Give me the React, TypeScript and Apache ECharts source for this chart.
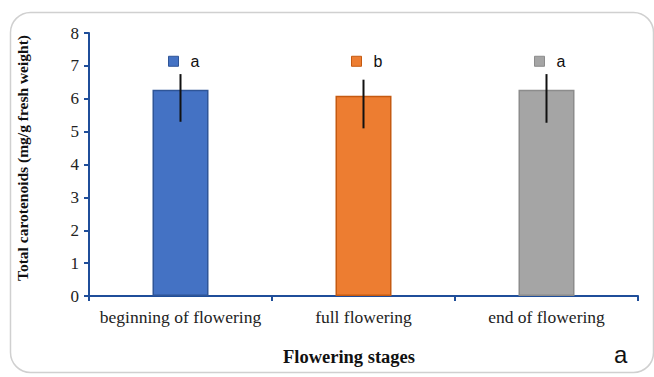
import React, { useEffect, useRef } from "react";
import * as echarts from "echarts";

const categories = ["beginning of flowering", "full flowering", "end of flowering"];
const values = [6.27, 6.09, 6.27];
const errLow = [5.3, 5.1, 5.27];
const errHigh = [6.75, 6.58, 6.75];
const letters = ["a", "b", "a"];
const letterLevel = [7.14, 7.14, 7.14];
const colors = ["#4472c4", "#ed7d31", "#a5a5a5"];
const borderColors = ["#2f5597", "#c55a11", "#8c8c8c"];
const yTicks = [0, 1, 2, 3, 4, 5, 6, 7, 8];
const yTitle = "Total carotenoids (mg/g fresh weight)";
const xTitle = "Flowering stages";
const panelTag = "a";

export default function App() {
  const ref = useRef<HTMLDivElement>(null);
  useEffect(() => {
    if (!ref.current) return;
    const chart = echarts.init(ref.current, null, { renderer: "svg" });
    const axisColor = "#1f4e9a";
    const serif = "'Liberation Serif', 'Times New Roman', serif";
    const sans = "'Liberation Sans', Arial, sans-serif";
    chart.setOption({
      animation: false,
      backgroundColor: "#ffffff",
      grid: { left: 89, right: 16, top: 33, bottom: 81, containLabel: false },
      xAxis: {
        type: "category",
        data: categories,
        axisLine: { show: true, lineStyle: { color: axisColor, width: 2 } },
        axisTick: { show: true, length: 5, lineStyle: { color: axisColor, width: 2 } },
        axisLabel: {
          color: "#222",
          fontFamily: serif,
          fontSize: 17.5,
          margin: 12,
          interval: 0,
          hideOverlap: false,
        },
      },
      yAxis: {
        type: "value",
        min: yTicks[0],
        max: yTicks[yTicks.length - 1],
        interval: 1,
        splitLine: { show: false },
        axisLine: { show: true, lineStyle: { color: axisColor, width: 2 } },
        axisTick: { show: true, length: 5, lineStyle: { color: axisColor, width: 2 } },
        axisLabel: { color: "#222", fontFamily: serif, fontSize: 17, margin: 10 },
      },
      series: [
        {
          type: "bar",
          barWidth: 56,
          data: values.map((v, i) => ({
            value: v,
            itemStyle: { color: colors[i], borderColor: borderColors[i], borderWidth: 1.5 },
          })),
        },
        {
          type: "custom",
          data: categories.map((_, i) => [i, errLow[i], errHigh[i]]),
          renderItem: (params: any, api: any) => {
            const lo = api.coord([api.value(0), api.value(1)]);
            const hi = api.coord([api.value(0), api.value(2)]);
            return {
              type: "line",
              shape: { x1: lo[0], y1: lo[1], x2: hi[0], y2: hi[1] },
              style: { stroke: "#111", lineWidth: 2 },
            };
          },
          z: 5,
        },
        {
          type: "custom",
          data: categories.map((_, i) => [i, letterLevel[i]]),
          renderItem: (params: any, api: any) => {
            const i = params.dataIndex;
            const p = api.coord([api.value(0), api.value(1)]);
            return {
              type: "group",
              children: [
                {
                  type: "rect",
                  shape: { x: p[0] - 12, y: p[1] - 5, width: 10, height: 10 },
                  style: { fill: colors[i], stroke: borderColors[i], lineWidth: 1 },
                },
                {
                  type: "text",
                  x: p[0] + 10,
                  y: p[1],
                  style: {
                    text: letters[i],
                    fill: "#111",
                    font: `16px ${sans}`,
                    verticalAlign: "middle",
                    align: "left",
                  },
                },
              ],
            };
          },
          z: 6,
        },
      ],
      graphic: [
        {
          type: "rect",
          shape: { x: 10.5, y: 12.5, width: 643, height: 360, r: 20 },
          style: { fill: "none", stroke: "#d0d0d0", lineWidth: 1.5 },
          z: -1,
        },
        {
          type: "text",
          x: 22,
          y: 158,
          rotation: Math.PI / 2,
          style: {
            text: yTitle,
            fill: "#111",
            font: `bold 15.5px ${serif}`,
            align: "center",
            verticalAlign: "middle",
          },
        },
        {
          type: "text",
          x: 349,
          y: 357,
          style: {
            text: xTitle,
            fill: "#111",
            font: `bold 18.5px ${serif}`,
            align: "center",
            verticalAlign: "middle",
          },
        },
        {
          type: "text",
          x: 614,
          y: 342,
          style: { text: panelTag, fill: "#111", font: `24px ${sans}` },
        },
      ],
    });
    return () => chart.dispose();
  }, []);
  return (
    <div
      ref={ref}
      style={{ position: "fixed", left: 0, top: 0, width: 654, height: 377 }}
    />
  );
}
